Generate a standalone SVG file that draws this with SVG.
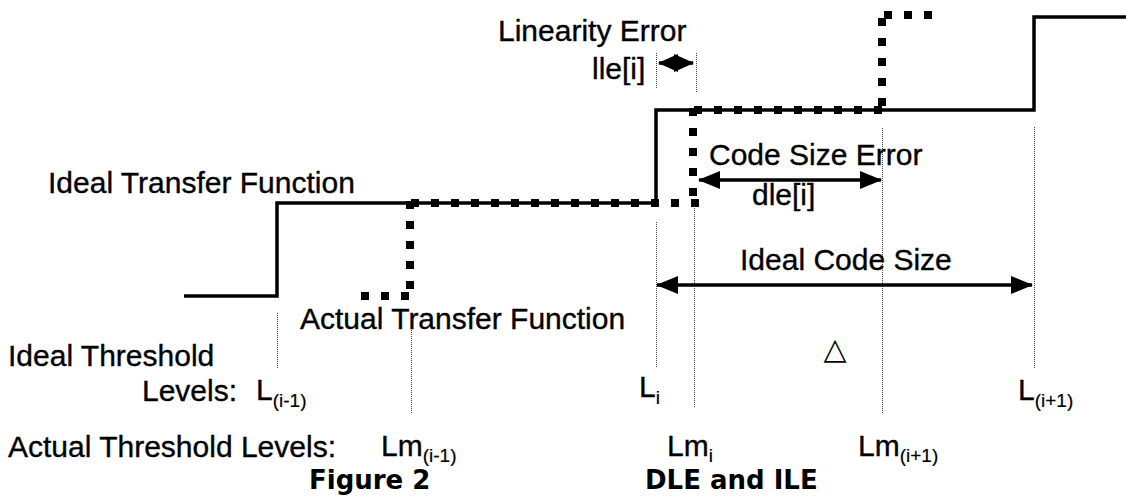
<svg xmlns="http://www.w3.org/2000/svg" width="1126" height="497" viewBox="0 0 1126 497">
<style>
.t{font-family:"Liberation Sans",Arial,sans-serif;font-size:30px;fill:#000;stroke:#000;stroke-width:0.35}
.s{font-size:19px;stroke-width:0.2}
.b{font-family:"DejaVu Sans",Verdana,sans-serif;font-size:26px;font-weight:bold;fill:#000}
.ideal{fill:none;stroke:#000;stroke-width:3.5;stroke-linejoin:miter}
.act{fill:none;stroke:#000;stroke-width:8;stroke-dasharray:8 12}
.dot{fill:none;stroke:#444;stroke-width:1;stroke-dasharray:1 1}
.arr{fill:none;stroke:#000;stroke-width:3.5}
</style>
<defs>
<marker id="ah" markerUnits="userSpaceOnUse" markerWidth="22" markerHeight="18" refX="21" refY="9" orient="auto-start-reverse"><path d="M0,0 L22,9 L0,18 Z" fill="#000"/></marker>
<marker id="ah2" markerUnits="userSpaceOnUse" markerWidth="20" markerHeight="18" refX="19" refY="9" orient="auto-start-reverse"><path d="M0,0 L20,9 L0,18 Z" fill="#000"/></marker>
</defs>
<g id="ideal-transfer">
<path class="ideal" d="M184 296 H277 V203 H656 V110 H1034 V17 H1126"/>
</g>
<g id="actual-transfer">
<line class="act" x1="361" y1="296" x2="411" y2="296"/>
<line class="act" x1="410" y1="289" x2="410" y2="200"/>
<line class="act" x1="411" y1="203" x2="700" y2="203"/>
<line class="act" x1="693" y1="196" x2="693" y2="108"/>
<line class="act" x1="694" y1="110" x2="884" y2="110"/>
<line class="act" x1="882" y1="106" x2="882" y2="15"/>
<line class="act" x1="884" y1="15" x2="932" y2="15"/>
</g>
<g id="connectors">
<line class="dot" x1="277.5" y1="313" x2="277.5" y2="368"/>
<line class="dot" x1="411.5" y1="318" x2="411.5" y2="413"/>
<line class="dot" x1="656.5" y1="222" x2="656.5" y2="368"/>
<line class="dot" x1="694.5" y1="206" x2="694.5" y2="407"/>
<line class="dot" x1="882.5" y1="128" x2="882.5" y2="413"/>
<line class="dot" x1="1034.5" y1="127" x2="1034.5" y2="369"/>
<line class="dot" x1="656.5" y1="53" x2="656.5" y2="88"/>
<line class="dot" x1="696.5" y1="53" x2="696.5" y2="92"/>
<line class="arr" x1="659" y1="63" x2="693" y2="63" marker-start="url(#ah2)" marker-end="url(#ah2)"/>
<line class="arr" x1="699" y1="180" x2="881" y2="180" marker-start="url(#ah)" marker-end="url(#ah)"/>
<line class="arr" x1="657" y1="285" x2="1032" y2="285" marker-start="url(#ah)" marker-end="url(#ah)"/>
</g>
<g id="labels">
<text class="t" x="498" y="41">Linearity Error</text>
<text class="t" x="592" y="79">lle[i]</text>
<text class="t" x="709" y="165">Code Size Error</text>
<text class="t" x="752" y="205">dle[i]</text>
<text class="t" x="48" y="193">Ideal Transfer Function</text>
<text class="t" x="740" y="270">Ideal Code Size</text>
<text class="t" x="300" y="329">Actual Transfer Function</text>
<text x="835" y="359" text-anchor="middle" style="font-family:'DejaVu Sans',sans-serif;font-size:30px;fill:#000">△</text>
<text class="t" x="8" y="366">Ideal Threshold</text>
<text class="t" x="142" y="401">Levels:</text>
<text class="t" x="256" y="400">L<tspan class="s" dy="7">(i-1)</tspan></text>
<text class="t" x="639" y="397">L<tspan class="s" dy="7">i</tspan></text>
<text class="t" x="1018" y="400">L<tspan class="s" dy="7">(i+1)</tspan></text>
<text class="t" x="8" y="457">Actual Threshold Levels:</text>
<text class="t" x="381" y="456">Lm<tspan class="s" dy="6">(i-1)</tspan></text>
<text class="t" x="667" y="456">Lm<tspan class="s" dy="6">i</tspan></text>
<text class="t" x="858" y="456">Lm<tspan class="s" dy="6">(i+1)</tspan></text>
<text class="b" x="309" y="489">Figure 2</text>
<text class="b" x="645" y="489">DLE and ILE</text>
</g>
</svg>
